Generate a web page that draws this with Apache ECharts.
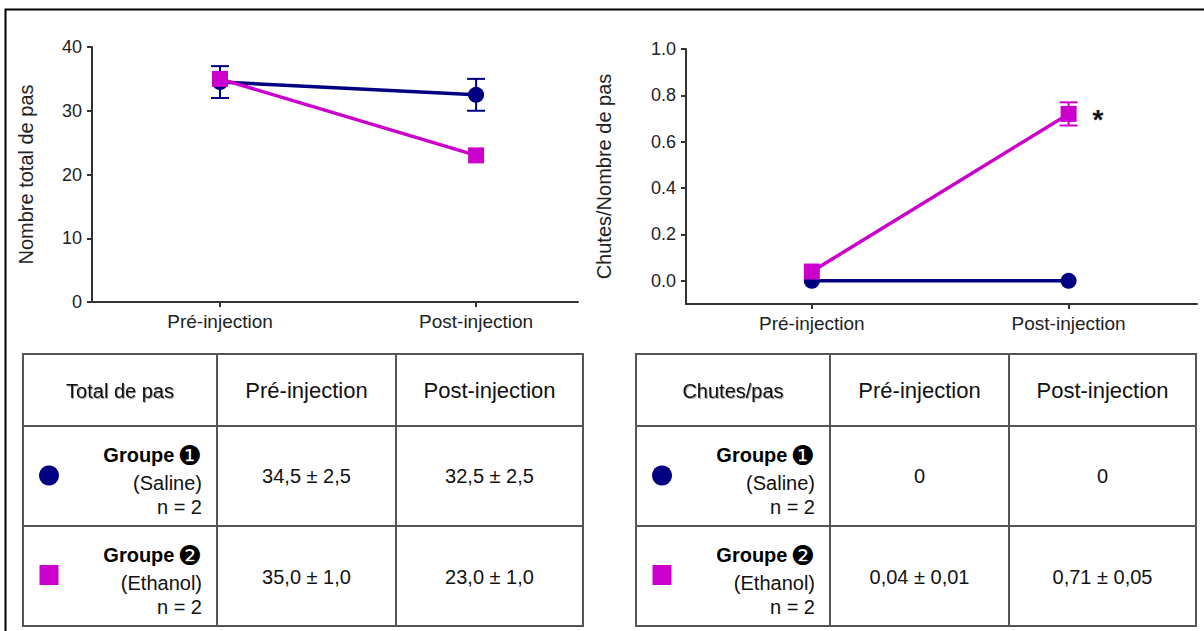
<!DOCTYPE html>
<html>
<head>
<meta charset="utf-8">
<script src="https://cdn.jsdelivr.net/npm/echarts@6/dist/echarts.min.js"></script>
<style>
  html, body { margin: 0; padding: 0; background: #fff; }
  #chart { width: 1204px; height: 631px; }
</style>
</head>
<body>
<div id="chart"></div>
<script>
// ---------------- DATA ----------------
const categories = ['Pré-injection', 'Post-injection'];

const stepsSaline = [34.5, 32.5];
const stepsSalineErr = [2.5, 2.5];
const stepsEthanol = [35.0, 23.0];
const stepsEthanolErr = [1.0, 1.0];

const fallsSaline = [0, 0];
const fallsSalineErr = [0, 0];
const fallsEthanol = [0.04, 0.72];
const fallsEthanolErr = [0.01, 0.05];
const fallsSignificance = ['', '*'];

const stepsTicks = [0, 10, 20, 30, 40];
const fallsTicks = [0, 0.2, 0.4, 0.6, 0.8, 1.0];

const stepsAxisName = 'Nombre total de pas';
const fallsAxisName = 'Chutes/Nombre de pas';

const stepsTableHeader = ['Total de pas', 'Pré-injection', 'Post-injection'];
const stepsTableValues = [['34,5 ± 2,5', '32,5 ± 2,5'], ['35,0 ± 1,0', '23,0 ± 1,0']];
const fallsTableHeader = ['Chutes/pas', 'Pré-injection', 'Post-injection'];
const fallsTableValues = [['0', '0'], ['0,04 ± 0,01', '0,71 ± 0,05']];

const groupLabels = ['Groupe', 'Groupe'];
const groupNumbers = ['❶', '❷'];
const groupTreatments = ['(Saline)', '(Ethanol)'];
const groupSizes = ['n = 2', 'n = 2'];

// ---------------- STYLE ----------------
const NAVY = '#000080';
const MAGENTA = '#CC00CC';
const AXIS = '#333';
const FONT = 'Liberation Sans, Arial, sans-serif';
const SYMBOL = 16;

function errorSeries(xi, yi, means, errs, color) {
  return {
    type: 'custom',
    xAxisIndex: xi, yAxisIndex: yi,
    silent: true,
    encode: { x: 0, y: 1 },
    data: means.map((m, i) => [i, m, errs[i]]),
    renderItem: function (params, api) {
      const x = api.value(0), m = api.value(1), e = api.value(2);
      if (!e) return null;
      const top = api.coord([x, m + e]);
      const bot = api.coord([x, m - e]);
      // like the original plot: bars hidden when they fit inside the symbol
      if (Math.abs(bot[1] - top[1]) / 2 <= SYMBOL / 2) return null;
      const hw = 9;
      const st = { stroke: color, lineWidth: 2 };
      return {
        type: 'group',
        children: [
          { type: 'line', shape: { x1: top[0], y1: top[1], x2: bot[0], y2: bot[1] }, style: st },
          { type: 'line', shape: { x1: top[0] - hw, y1: top[1], x2: top[0] + hw, y2: top[1] }, style: st },
          { type: 'line', shape: { x1: bot[0] - hw, y1: bot[1], x2: bot[0] + hw, y2: bot[1] }, style: st }
        ]
      };
    }
  };
}

function lineSeries(xi, yi, vals, color, symbol, extra) {
  return Object.assign({
    type: 'line',
    xAxisIndex: xi, yAxisIndex: yi,
    data: vals.map((v, i) => [i, v]),
    symbol: symbol,
    symbolSize: SYMBOL,
    showAllSymbol: true,
    lineStyle: { color: color, width: 3.5 },
    itemStyle: { color: color, opacity: 1 },
    emphasis: { disabled: true },
    silent: true
  }, extra || {});
}

function xAxisCfg(grid, min, max) {
  return {
    type: 'value', gridIndex: grid, min: min, max: max,
    axisLine: { show: true, onZero: false, lineStyle: { color: AXIS, width: 2 } },
    axisTick: { show: true, length: 5, customValues: [0, 1], lineStyle: { color: AXIS, width: 2 } },
    axisLabel: {
      customValues: [0, 1], margin: 10,
      formatter: v => categories[Math.round(v)] || '',
      color: '#222', fontSize: 19, fontFamily: FONT
    },
    splitLine: { show: false }
  };
}

function yAxisCfg(grid, min, max, ticks, name, gap, fmt) {
  return {
    type: 'value', gridIndex: grid, min: min, max: max,
    name: name, nameLocation: 'middle', nameGap: gap,
    nameTextStyle: { color: '#222', fontSize: 20, fontFamily: FONT },
    axisLine: { show: true, onZero: false, lineStyle: { color: AXIS, width: 2 } },
    axisTick: { show: true, length: 5, customValues: ticks, lineStyle: { color: AXIS, width: 2 } },
    axisLabel: { customValues: ticks, margin: 10, formatter: fmt, color: '#222', fontSize: 18, fontFamily: FONT },
    splitLine: { show: false }
  };
}

// ---------------- TABLES (graphic) ----------------
function buildTable(xs, ys, header, values) {
  const els = [];
  const lineSt = { stroke: '#555', lineWidth: 2 };
  xs.forEach(x => els.push({ type: 'line', silent: true, shape: { x1: x, y1: ys[0], x2: x, y2: ys[ys.length - 1] }, style: lineSt }));
  ys.forEach(y => els.push({ type: 'line', silent: true, shape: { x1: xs[0] - 1, y1: y, x2: xs[xs.length - 1] + 1, y2: y }, style: lineSt }));
  const cx = i => (xs[i] + xs[i + 1]) / 2;
  const hy = (ys[0] + ys[1]) / 2 + 0.5;
  header.forEach((h, i) => {
    els.push({
      type: 'text', silent: true, x: cx(i), y: hy,
      style: {
        text: h, fill: '#111', fontFamily: FONT, fontSize: i === 0 ? 20 : 22,
        align: 'center', verticalAlign: 'middle',
        textShadowColor: i === 0 ? 'rgba(0,0,0,0.35)' : 'transparent', textShadowBlur: i === 0 ? 1.5 : 0,
        textShadowOffsetX: i === 0 ? 1 : 0, textShadowOffsetY: i === 0 ? 1 : 0
      }
    });
  });
  for (let r = 0; r < 2; r++) {
    const rowMid = (ys[r + 1] + ys[r + 2]) / 2;
    if (r === 0) {
      els.push({ type: 'circle', silent: true, shape: { cx: xs[0] + 26, cy: rowMid - 0.5, r: 10 }, style: { fill: NAVY } });
    } else {
      els.push({ type: 'rect', silent: true, shape: { x: xs[0] + 16.5, y: rowMid - 11, width: 19, height: 20 }, style: { fill: MAGENTA } });
    }
    const rx = xs[1] - 15;
    els.push({
      type: 'text', silent: true, x: rx, y: rowMid - 21,
      style: {
        text: '{g|' + groupLabels[r] + '} {n|' + groupNumbers[r] + '}',
        align: 'right', verticalAlign: 'middle',
        rich: {
          g: { fontFamily: FONT, fontWeight: 'bold', fontSize: 20, fill: '#000' },
          n: { fontFamily: 'DejaVu Sans, sans-serif', fontSize: 27, fill: '#000' }
        }
      }
    });
    els.push({ type: 'text', silent: true, x: rx, y: rowMid + 6.5, style: { text: groupTreatments[r], fill: '#111', fontFamily: FONT, fontSize: 20, align: 'right', verticalAlign: 'middle' } });
    els.push({ type: 'text', silent: true, x: rx, y: rowMid + 31, style: { text: groupSizes[r], fill: '#111', fontFamily: FONT, fontSize: 20, align: 'right', verticalAlign: 'middle' } });
    values[r].forEach((v, c) => {
      els.push({ type: 'text', silent: true, x: cx(c + 1), y: rowMid + (r === 0 ? -0.5 : 1), style: { text: v, fill: '#111', fontFamily: FONT, fontSize: 20, align: 'center', verticalAlign: 'middle' } });
    });
  }
  return els;
}

const tableYs = [354, 426, 526, 626];
const graphics = [
  { type: 'rect', silent: true, shape: { x: 5.5, y: 9.5, width: 1300, height: 700 }, style: { fill: 'none', stroke: '#000', lineWidth: 2 } }
].concat(
  buildTable([23, 217, 396, 583], tableYs, stepsTableHeader, stepsTableValues),
  buildTable([636, 830, 1009, 1196], tableYs, fallsTableHeader, fallsTableValues)
);

// ---------------- CHART ----------------
const chart = echarts.init(document.getElementById('chart'), null, { renderer: 'svg' });
chart.setOption({
  backgroundColor: '#fff',
  animation: false,
  grid: [
    { left: 92, top: 47, width: 486, height: 255 },
    { left: 686, top: 49, width: 511, height: 255 }
  ],
  xAxis: [
    xAxisCfg(0, -0.5, 1.398),
    xAxisCfg(1, -0.49, 1.5)
  ],
  yAxis: [
    yAxisCfg(0, 0, 40, stepsTicks, stepsAxisName, 56, v => String(v)),
    yAxisCfg(1, -0.1, 1.0, fallsTicks, fallsAxisName, 72, v => v.toFixed(1))
  ],
  series: [
    errorSeries(0, 0, stepsSaline, stepsSalineErr, NAVY),
    lineSeries(0, 0, stepsSaline, NAVY, 'circle'),
    errorSeries(0, 0, stepsEthanol, stepsEthanolErr, MAGENTA),
    lineSeries(0, 0, stepsEthanol, MAGENTA, 'rect'),
    errorSeries(1, 1, fallsSaline, fallsSalineErr, NAVY),
    lineSeries(1, 1, fallsSaline, NAVY, 'circle'),
    errorSeries(1, 1, fallsEthanol, fallsEthanolErr, MAGENTA),
    lineSeries(1, 1, fallsEthanol, MAGENTA, 'rect', {
      label: {
        show: true, position: 'right', distance: 16, offset: [0, 6],
        formatter: p => fallsSignificance[p.dataIndex] || '',
        color: '#111', fontSize: 28, fontWeight: 'bold', fontFamily: FONT
      }
    })
  ],
  graphic: graphics
});
</script>
</body>
</html>
